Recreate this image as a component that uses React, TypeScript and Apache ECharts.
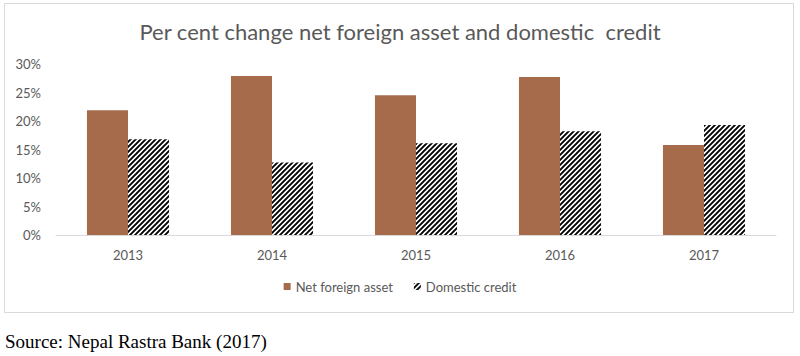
import React, { useEffect, useRef } from "react";
import * as echarts from "echarts";

const categories = ["2013", "2014", "2015", "2016", "2017"];
const netForeignAsset = [21.9, 27.9, 24.5, 27.7, 15.8];
const domesticCredit = [16.8, 12.7, 16.1, 18.2, 19.3];
const titleText = "Per cent change net foreign asset and domestic  credit";
const sourceText = "Source: Nepal Rastra Bank (2017)";

function makeHatch(): HTMLCanvasElement {
  const c = document.createElement("canvas");
  const s = 5;
  c.width = s;
  c.height = s;
  const ctx = c.getContext("2d")!;
  ctx.fillStyle = "#ffffff";
  ctx.fillRect(0, 0, s, s);
  ctx.strokeStyle = "#000000";
  ctx.lineWidth = 1.9;
  ctx.beginPath();
  ctx.moveTo(-1, s + 1);
  ctx.lineTo(s + 1, -1);
  ctx.moveTo(-1, 1);
  ctx.lineTo(1, -1);
  ctx.moveTo(s - 1, s + 1);
  ctx.lineTo(s + 1, s - 1);
  ctx.stroke();
  return c;
}

export default function App() {
  const ref = useRef<HTMLDivElement>(null);
  useEffect(() => {
    document.body.style.margin = "0";
    const chart = echarts.init(ref.current!, null, { renderer: "svg" });
    const hatch = makeHatch();
    const font = "Lato";
    chart.setOption({
      animation: false,
      backgroundColor: "#ffffff",
      title: {
        text: titleText,
        left: "center",
        top: 15,
        textStyle: { fontFamily: font, fontSize: 22, fontWeight: "normal", color: "#595959" },
      },
      legend: {
        bottom: 58,
        left: "center",
        icon: "rect",
        itemWidth: 7,
        itemHeight: 7,
        itemGap: 21,
        textStyle: { fontFamily: font, fontSize: 13, color: "#595959" },
        data: ["Net foreign asset", "Domestic credit"],
      },
      grid: { left: 56, right: 24, top: 64, bottom: 121, containLabel: false },
      xAxis: {
        type: "category",
        data: categories,
        axisLine: { lineStyle: { color: "#d9d9d9" } },
        axisTick: { show: false },
        axisLabel: { fontFamily: font, fontSize: 13, color: "#595959", margin: 13 },
      },
      yAxis: {
        type: "value",
        min: 0,
        max: 30,
        interval: 5,
        splitLine: { show: false },
        axisLine: { show: false },
        axisTick: { show: false },
        axisLabel: { fontFamily: font, fontSize: 13, color: "#595959", margin: 15, formatter: "{value}%" },
      },
      series: [
        {
          name: "Net foreign asset",
          type: "bar",
          data: netForeignAsset,
          barGap: "0%",
          barCategoryGap: "43%",
          itemStyle: { color: "#A66B4B" },
        },
        {
          name: "Domestic credit",
          type: "bar",
          data: domesticCredit,
          barGap: "0%",
          barCategoryGap: "43%",
          itemStyle: { color: { image: hatch, repeat: "repeat" } },
        },
      ],
      graphic: [
        {
          type: "rect",
          shape: { x: 4.5, y: 3.5, width: 789, height: 309 },
          style: { fill: "none", stroke: "#d9d9d9", lineWidth: 1 },
          silent: true,
        },
        {
          type: "text",
          left: 5,
          top: 332,
          style: { text: sourceText, font: "19px 'Liberation Serif'", fill: "#000000" },
        },
      ],
    });
    return () => chart.dispose();
  }, []);
  return (
    <div
      ref={ref}
      style={{ position: "absolute", left: 0, top: 0, width: 800, height: 356 }}
    />
  );
}
